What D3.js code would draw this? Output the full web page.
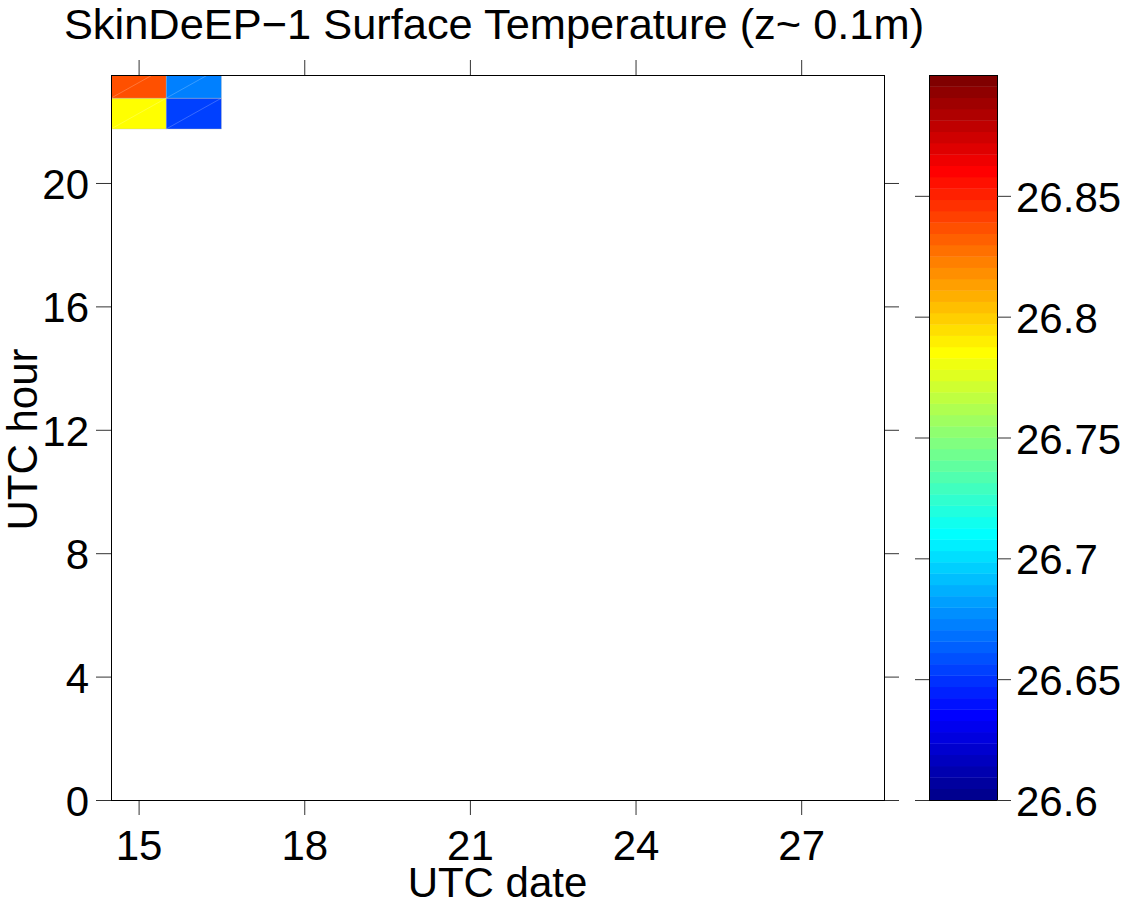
<!DOCTYPE html>
<html>
<head>
<meta charset="utf-8">
<script src="https://cdn.jsdelivr.net/npm/d3@7"></script>
<style>
  html, body { margin: 0; padding: 0; background: #fff; }
  svg { display: block; }
  text { font-family: "Liberation Sans", Arial, sans-serif; fill: #000; }
</style>
</head>
<body>
<svg id="chart" width="1127" height="900"></svg>
<script>
// ---- data ----
const days = [15, 16];                 // UTC date (cell centres)
const hours = [22.25, 23.25];          // UTC hour (cell centres)
const temps = [                        // temps[hourIndex][dayIndex], deg C
  [26.785, 26.654],
  [26.837, 26.672]
];
const xTicks = [15, 18, 21, 24, 27];
const yTicks = [0, 4, 8, 12, 16, 20];
const cTicks = [26.6, 26.65, 26.7, 26.75, 26.8, 26.85];
const cTickLabels = ["26.6", "26.65", "26.7", "26.75", "26.8", "26.85"];
const xDomain = [14.5, 28.5];
const yDomain = [0, 23.5];
const cDomain = [26.6, 26.9];
const titleText = "SkinDeEP\u22121 Surface Temperature (z~ 0.1m)";
const xLabel = "UTC date";
const yLabel = "UTC hour";

// ---- jet(64) colormap (MATLAB) ----
function jet(m) {
  const n = Math.ceil(m / 4);
  const u = [];
  for (let i = 1; i <= n; i++) u.push(i / n);
  for (let i = 0; i < n - 1; i++) u.push(1);
  for (let i = n; i >= 1; i--) u.push(i / n);
  const g0 = Math.ceil(n / 2) - (m % 4 === 1 ? 1 : 0);
  const R = new Array(m).fill(0), G = new Array(m).fill(0), B = new Array(m).fill(0);
  for (let k = 0; k < u.length; k++) {
    const g = g0 + k + 1, r = g + n, b = g - n;
    if (g >= 1 && g <= m) G[g - 1] = u[k];
    if (r >= 1 && r <= m) R[r - 1] = u[k];
    if (b >= 1 && b <= m) B[b - 1] = u[k];
  }
  return d3.range(m).map(i => d3.rgb(Math.round(R[i] * 255), Math.round(G[i] * 255), Math.round(B[i] * 255)).formatHex());
}
const nCol = 64;
const palette = jet(nCol);
function colorOf(v) {
  let k = Math.floor((v - cDomain[0]) / (cDomain[1] - cDomain[0]) * nCol);
  k = Math.max(0, Math.min(nCol - 1, k));
  return palette[k];
}

// ---- layout ----
const svg = d3.select("#chart");
const L = 111, R = 884, T = 75, Bm = 800;
const cbL = 929, cbR = 997;
const FS = 42;

const x = d3.scaleLinear().domain(xDomain).range([L, R]);
const y = d3.scaleLinear().domain(yDomain).range([Bm, T]);
const c = d3.scaleLinear().domain(cDomain).range([Bm, T]);

svg.append("defs").append("clipPath").attr("id", "plotclip")
  .append("rect").attr("x", L).attr("y", T).attr("width", R - L).attr("height", Bm - T);

// cells
const cells = [];
hours.forEach((h, i) => days.forEach((d, j) => cells.push({ d, h, v: temps[i][j] })));
const gCells = svg.append("g").attr("clip-path", "url(#plotclip)");
gCells.selectAll("rect.cell").data(cells).join("rect")
  .attr("class", "cell")
  .attr("x", p => x(p.d - 0.5))
  .attr("y", p => y(p.h + 0.5))
  .attr("width", p => x(p.d + 0.5) - x(p.d - 0.5))
  .attr("height", p => y(p.h - 0.5) - y(p.h + 0.5))
  .attr("fill", p => colorOf(p.v))
  .attr("stroke", "#bbb").attr("stroke-width", 0.6).attr("stroke-opacity", 0.6);
gCells.selectAll("line.diag").data(cells).join("line")
  .attr("class", "diag")
  .attr("x1", p => x(p.d - 0.5)).attr("y1", p => y(p.h - 0.5))
  .attr("x2", p => x(p.d + 0.5)).attr("y2", p => y(p.h + 0.5))
  .attr("stroke", "#fff").attr("stroke-opacity", 0.28).attr("stroke-width", 0.8);

function styleAxis(g) {
  g.select(".domain").remove();
  g.selectAll(".tick line").attr("stroke", "#333").attr("stroke-width", 1);
  g.selectAll("text").attr("font-size", FS).attr("font-family", "'Liberation Sans', Arial, sans-serif").attr("fill", "#000");
}

// axes
svg.append("g").attr("transform", `translate(0,${Bm})`)
  .call(d3.axisBottom(x).tickValues(xTicks).tickFormat(d3.format("d")).tickSize(15).tickPadding(15))
  .call(styleAxis);
svg.append("g").attr("transform", `translate(0,${T})`)
  .call(d3.axisTop(x).tickValues(xTicks).tickFormat("").tickSize(15))
  .call(styleAxis);
svg.append("g").attr("transform", `translate(${L},0)`)
  .call(d3.axisLeft(y).tickValues(yTicks).tickFormat(d3.format("d")).tickSize(15).tickPadding(7))
  .call(styleAxis)
  .call(g => g.selectAll("text").attr("dy", "0.37em"));
svg.append("g").attr("transform", `translate(${R},0)`)
  .call(d3.axisRight(y).tickValues(yTicks).tickFormat("").tickSize(15))
  .call(styleAxis);

// plot box
svg.append("rect").attr("x", L + 0.5).attr("y", T + 0.5).attr("width", R - L).attr("height", Bm - T)
  .attr("fill", "none").attr("stroke", "#000").attr("stroke-width", 1);

// colorbar
svg.append("g").selectAll("rect").data(palette).join("rect")
  .attr("x", cbL).attr("width", cbR - cbL)
  .attr("y", (col, i) => c(cDomain[0] + (i + 1) * (cDomain[1] - cDomain[0]) / nCol))
  .attr("height", (col, i) => c(cDomain[0] + i * (cDomain[1] - cDomain[0]) / nCol) - c(cDomain[0] + (i + 1) * (cDomain[1] - cDomain[0]) / nCol) + 0.4)
  .attr("fill", col => col);
svg.append("rect").attr("x", cbL + 0.5).attr("y", T + 0.5).attr("width", cbR - cbL).attr("height", Bm - T)
  .attr("fill", "none").attr("stroke", "#000").attr("stroke-width", 1);
svg.append("g").attr("transform", `translate(${cbR},0)`)
  .call(d3.axisRight(c).tickValues(cTicks).tickFormat((d, i) => cTickLabels[i]).tickSize(14).tickPadding(5))
  .call(styleAxis)
  .call(g => g.selectAll("text").attr("dy", "0.37em"));
svg.append("g").attr("transform", `translate(${cbL},0)`)
  .call(d3.axisLeft(c).tickValues(cTicks).tickFormat("").tickSize(14))
  .call(styleAxis);

// titles
svg.append("text").attr("x", 494).attr("y", 39).attr("text-anchor", "middle")
  .attr("font-size", 43.4).text(titleText);
svg.append("text").attr("x", (L + R) / 2).attr("y", 897).attr("text-anchor", "middle")
  .attr("font-size", FS).text(xLabel);
svg.append("text").attr("transform", `translate(37,${(T + Bm) / 2 + 2}) rotate(-90)`)
  .attr("text-anchor", "middle").attr("font-size", FS).text(yLabel);
</script>
</body>
</html>
